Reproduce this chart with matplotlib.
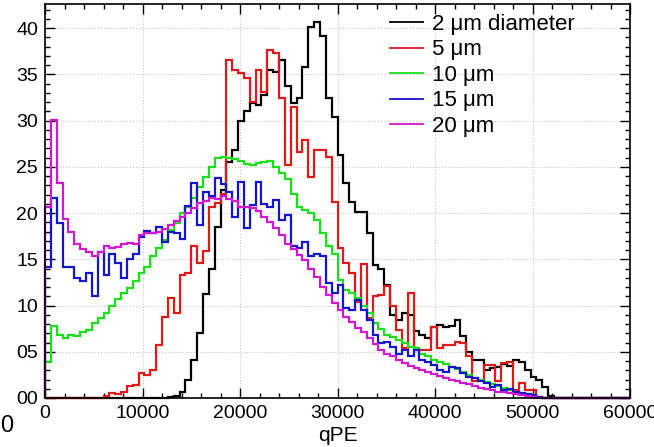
import numpy as np
import matplotlib
matplotlib.use("Agg")
import matplotlib.pyplot as plt
from matplotlib.lines import Line2D
from matplotlib.ticker import MultipleLocator, FixedLocator, FixedFormatter

plt.rcParams['font.family'] = ['Liberation Sans', 'DejaVu Sans']

# 100 bins of 600 qPE from 0 to 60000
binEdges = np.arange(0, 60001, 600)

# 2 um diameter
black = [0.0] * 21 + [
    0.1, 0.2, 0.6, 1.9, 4.1, 7.0, 11.2, 13.9, 18.5, 22.5,
    25.5, 26.8, 29.9, 31.0, 31.9, 31.7, 32.8, 35.5, 35.3, 36.5,
    33.7, 31.9, 32.4, 35.8, 40.1, 40.6, 39.1, 32.4, 30.4, 26.3,
    23.2, 21.2, 20.1, 20.1, 17.8, 14.4, 14.0, 12.2, 9.0, 8.4,
    9.2, 9.0, 7.2, 6.8, 6.5, 7.7, 7.9, 7.7, 7.8, 8.4,
    6.7, 5.0, 4.1, 4.1, 3.0, 3.2, 3.4, 3.7, 3.5, 4.1,
    3.9, 3.0, 2.3, 1.9, 1.2, 0.2] + [0.0] * 13

# 5 um
red = [0.0] * 10 + [
    0.2, 0.5, 0.4, 0.7, 1.3, 1.4, 2.7, 2.5, 3.0, 5.7,
    8.8, 10.8, 9.2, 13.3, 13.5, 16.4, 14.6, 15.9, 20.7, 21.1,
    22.1, 36.5, 35.5, 35.1, 34.6, 32.0, 35.5, 33.1, 37.6, 37.3,
    32.4, 25.2, 31.5, 26.6, 27.9, 23.9, 26.8, 26.8, 26.1, 21.2,
    16.2, 14.6, 13.5, 10.4, 14.5, 8.6, 11.0, 11.1, 12.1, 9.9,
    7.3, 5.4, 11.4, 5.4, 5.2, 5.2, 7.7, 5.4, 5.7, 5.7,
    6.1, 6.0, 4.5, 1.8, 1.9, 3.6, 3.6, 1.8, 3.8, 3.9,
    0.9, 1.6, 0.9, 0.9, 0.1] + [0.0] * 15

# 10 um
green = [
    3.9, 7.8, 6.8, 6.5, 6.8, 6.7, 7.1, 7.4, 8.1, 8.6,
    9.2, 10.0, 10.7, 11.3, 11.9, 12.6, 13.5, 14.2, 15.3, 16.2,
    17.1, 18.2, 18.9, 20.0, 20.7, 21.6, 22.8, 23.9, 25.0, 26.0,
    26.1, 26.0, 25.8, 25.6, 25.3, 25.2, 25.4, 25.5, 25.6, 25.0,
    24.3, 23.7, 22.1, 20.7, 20.3, 20.0, 19.2, 17.8, 16.4, 15.6,
    12.8, 11.7, 11.3, 10.8, 9.9, 9.2, 8.1, 7.5, 6.8, 6.6,
    6.3, 5.9, 5.5, 5.4, 4.8, 4.5, 4.1, 3.9, 3.7, 3.4,
    3.1, 2.8, 2.5, 2.2, 1.9, 1.7, 1.5, 1.3, 1.1, 0.9,
    0.7, 0.5, 0.4, 0.3, 0.1, 0.05] + [0.0] * 14

# 15 um
blue = [
    14.2, 21.6, 18.9, 14.2, 14.2, 13.0, 12.6, 13.5, 11.0, 15.8,
    13.3, 15.6, 14.6, 13.0, 15.0, 15.6, 17.4, 18.1, 17.8, 18.5,
    16.9, 18.0, 17.8, 17.2, 20.8, 23.2, 18.7, 22.3, 21.8, 23.8,
    23.1, 22.3, 19.6, 23.4, 18.4, 20.9, 23.4, 21.0, 20.7, 21.4,
    19.2, 19.8, 16.4, 16.2, 16.9, 15.3, 15.6, 15.3, 12.4, 11.3,
    12.2, 9.7, 9.5, 10.6, 9.5, 8.4, 6.8, 5.9, 6.1, 5.5,
    4.8, 5.2, 4.5, 5.2, 4.1, 3.9, 3.6, 3.0, 2.8, 3.4,
    3.2, 2.7, 2.3, 2.2, 1.8, 1.6, 1.2, 1.4, 0.9, 1.0,
    0.7, 0.5, 0.4, 0.3, 0.1] + [0.0] * 15

# 20 um
magenta = [
    20.6, 30.1, 23.2, 19.4, 17.9, 16.6, 16.1, 15.8, 15.4, 15.8,
    16.4, 16.2, 16.3, 16.6, 16.8, 16.6, 17.6, 17.8, 17.8, 18.0,
    18.3, 18.7, 19.1, 19.6, 20.0, 20.5, 21.1, 21.3, 21.6, 21.5,
    21.8, 21.5, 21.3, 20.7, 20.6, 20.5, 20.2, 19.6, 19.0, 18.4,
    17.6, 16.6, 16.1, 15.5, 14.9, 14.0, 13.1, 12.0, 11.1, 10.3,
    9.5, 8.8, 8.2, 7.6, 7.1, 6.5, 5.8, 5.2, 4.8, 4.5,
    4.1, 3.8, 3.5, 3.2, 3.0, 2.8, 2.6, 2.4, 2.2, 2.0,
    1.8, 1.6, 1.5, 1.3, 1.1, 1.0, 0.9, 0.7, 0.6, 0.5,
    0.4, 0.3, 0.2, 0.1, 0.05] + [0.0] * 15

labels = ["2 \u03bcm diameter", "5 \u03bcm", "10 \u03bcm", "15 \u03bcm", "20 \u03bcm"]
colors = ["black", "#e01818", "#18e018", "#1414cc", "#d018d0"]
series = [black, red, green, blue, magenta]

yTicks = [0, 5, 10, 15, 20, 25, 30, 35, 40]
yTickLabels = ["00", "05", "10", "15", "20", "25", "30", "35", "40"]
xTicks = [0, 10000, 20000, 30000, 40000, 50000, 60000]
xTickLabels = ["0", "10000", "20000", "30000", "40000", "50000", "60000"]

W, H = 654, 447
fig = plt.figure(figsize=(W / 100, H / 100), dpi=100)
ax = fig.add_axes([45 / W, (H - 398) / H, 585 / W, 394 / H])

for vals, c in zip(series, colors):
    ax.stairs(vals, binEdges, baseline=0, color=c, linewidth=1.6, clip_on=False)

ax.set_xlim(0, 60000)
ax.set_ylim(0, 42.6)

ax.xaxis.set_major_locator(FixedLocator(xTicks))
ax.xaxis.set_major_formatter(FixedFormatter(xTickLabels))
ax.xaxis.set_minor_locator(MultipleLocator(2000))
ax.yaxis.set_major_locator(FixedLocator(yTicks))
ax.yaxis.set_major_formatter(FixedFormatter(yTickLabels))
ax.yaxis.set_minor_locator(MultipleLocator(1))

ax.tick_params(which='both', direction='in', top=True, right=True, width=1.0,
               labelsize=14, colors='black')
ax.tick_params(which='major', length=7.5, pad=5)
ax.tick_params(which='minor', length=3.8)
for s in ax.spines.values():
    s.set_linewidth(1.2)

ax.grid(True, which='major', linestyle=(0, (1, 2)), color='#bbbbbb', linewidth=0.7)
ax.set_axisbelow(True)

ax.set_xlabel("qPE", fontsize=15, labelpad=3)

handles = [Line2D([0], [0], color=c, linewidth=1.3) for c in colors]
leg = ax.legend(handles, labels, loc='upper left', bbox_to_anchor=(390 / W, 1 - 14 / H),
                bbox_transform=fig.transFigure, frameon=False, fontsize=16,
                handlelength=1.5, handletextpad=0.4, labelspacing=0.2,
                borderpad=0.0, borderaxespad=0.0)

fig.text(0, 1 - 426 / H, "0", ha='left', va='center', fontsize=17)

fig.savefig("out.png", dpi=100)
